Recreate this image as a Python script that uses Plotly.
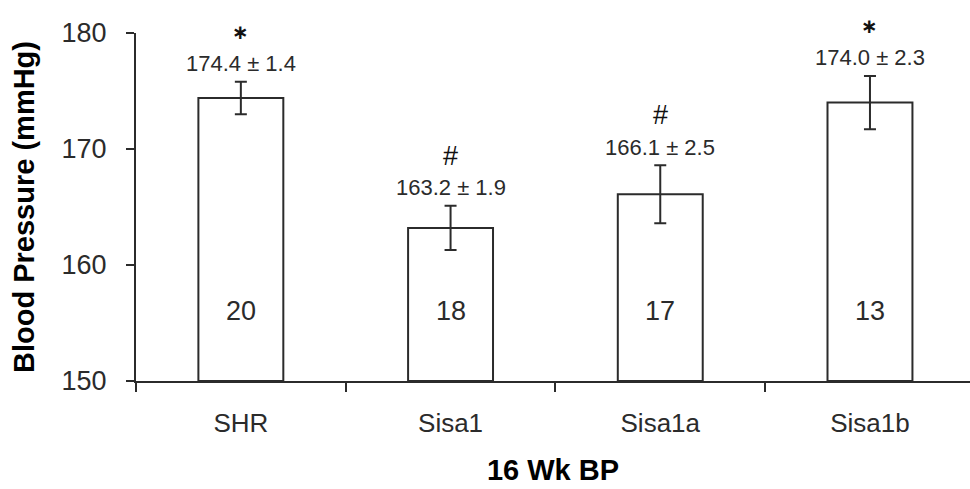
import plotly.graph_objects as go

categories = ["SHR", "Sisa1", "Sisa1a", "Sisa1b"]
means = [174.4, 163.2, 166.1, 174.0]
sems = [1.4, 1.9, 2.5, 2.3]
counts = [20, 18, 17, 13]
symbols = ["∗", "#", "#", "∗"]
y_ticks = [150, 160, 170, 180]

FONT = "Liberation Sans, Arial, sans-serif"
DARK = "#2b2b2b"

fig = go.Figure()
fig.add_trace(go.Bar(
    x=categories, y=[m - 150 for m in means], base=150,
    width=0.405,
    marker=dict(color="white", line=dict(color=DARK, width=2)),
    error_y=dict(type="data", array=sems, visible=True, color=DARK, thickness=2, width=6),
    hoverinfo="skip",
))

for c, m, s, n, sym in zip(categories, means, sems, counts, symbols):
    fig.add_annotation(x=c, y=m + s, xref="x", yref="y", text=f"{m:.1f} ± {s:.1f}",
                       showarrow=False, yanchor="middle", yshift=18,
                       font=dict(family=FONT, size=22, color=DARK))
    is_hash = sym == "#"
    fig.add_annotation(x=c, y=m + s, xref="x", yref="y",
                       text=sym if is_hash else f"<b>{sym}</b>",
                       showarrow=False, yanchor="middle", yshift=50,
                       font=dict(family=FONT if is_hash else "DejaVu Sans, " + FONT,
                                 size=27 if is_hash else 20, color="#111"))
    fig.add_annotation(x=c, y=156, xref="x", yref="y", text=str(n),
                       showarrow=False, yanchor="middle",
                       font=dict(family=FONT, size=27, color=DARK))

fig.update_layout(
    width=970, height=489,
    margin=dict(l=136, r=0, t=33, b=108),
    paper_bgcolor="white", plot_bgcolor="white",
    showlegend=False,
    font=dict(family=FONT, color=DARK),
    xaxis=dict(
        range=[-0.5, 3.477],
        showline=True, linecolor=DARK, linewidth=2,
        ticks="outside", ticklen=9, tickwidth=2, tickcolor=DARK,
        tickson="boundaries",
        tickfont=dict(family=FONT, size=26, color=DARK),
        ticklabelstandoff=18,
        showgrid=False, zeroline=False,
        title=dict(text="<b>16 Wk BP</b>", font=dict(family=FONT, size=29, color="black"),
                   standoff=22),
    ),
    yaxis=dict(
        range=[150, 180], tickvals=y_ticks,
        showline=True, linecolor=DARK, linewidth=2,
        ticks="outside", ticklen=8, tickwidth=2, tickcolor=DARK,
        tickfont=dict(family=FONT, size=27, color=DARK),
        ticklabelstandoff=14,
        showgrid=False, zeroline=False,
        title=dict(text="<b>Blood Pressure (mmHg)</b>", font=dict(family=FONT, size=29, color="black"),
                   standoff=18),
    ),
)

fig.write_html("out.html")
